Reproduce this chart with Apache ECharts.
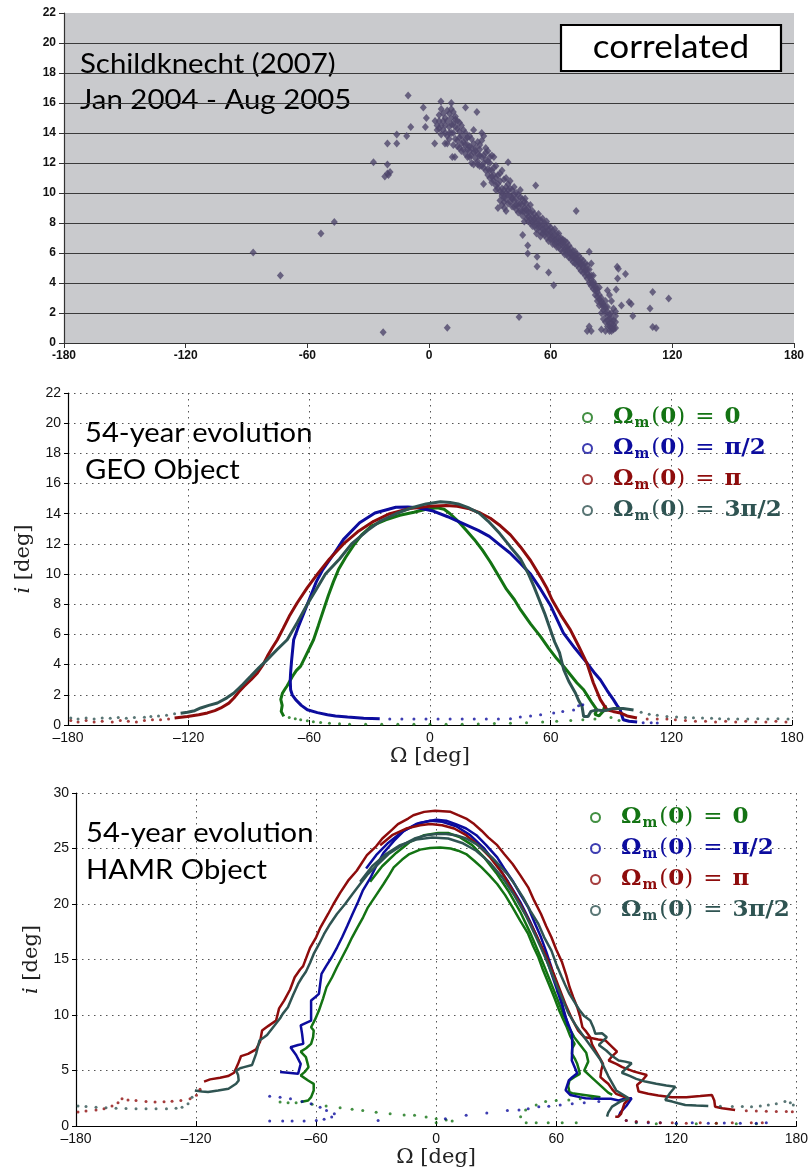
<!DOCTYPE html>
<html>
<head>
<meta charset="utf-8">
<script src="https://cdn.jsdelivr.net/npm/echarts@6/dist/echarts.min.js"></script>
<style>
html,body{margin:0;padding:0;background:#fff;}
#chart{width:811px;height:1171px;}
</style>
</head>
<body>
<div id="chart"></div>
<script>
// ---------- tick values ----------
var omegaTicks = [-180, -120, -60, 0, 60, 120, 180];
var geoIncTicks = [0, 2, 4, 6, 8, 10, 12, 14, 16, 18, 20, 22];
var hamrIncTicks = [0, 5, 10, 15, 20, 25, 30];

// ---------- legend labels ----------
var seriesNames = ['Ωm(0) = 0', 'Ωm(0) = π/2', 'Ωm(0) = π', 'Ωm(0) = 3π/2'];
var seriesValueText = ['0', 'π/2', 'π', '3π/2'];

// ---------- top panel: Schildknecht (2007) observations [Ω, i] ----------
var correlatedPoints = [
[-86.7,6.04],[-73.3,4.5],[-53.3,7.3],[-46.7,8.06],[-22.6,0.71],[-27.4,12.05],[-20.5,13.3],[-15.9,13.3],[-15.9,13.9],
[-20.5,11.9],[-21.8,11.1],[-20.5,11.3],[-19.2,11.4],[-20,11.2],[-10.3,16.5],[-9,14.4],[-11,13.8],[-2.8,15.7],[-1.3,15],
[-1.8,14.4],[2.8,13.3],[5.9,16.1],[11,16],[18,15.7],[23.6,15.4],[7.9,13.3],[9,13.3],[11.5,12.4],[12.8,12.4],[9,1.02],
[44.4,1.74],[72.6,8.8],[52.6,10.5],[47.4,9.64],[37.2,9],[38,8.8],[26.9,10.6],[39,12.05],[46.2,7.2],[48.7,6.5],[48.7,5.97],
[53.3,5.75],[53.3,5.1],[59,4.7],[61.5,3.85],[79,6.08],[96.9,4.6],[93,4.3],[92.3,3.56],[94.9,2.5],[98.7,2.74],[99.7,2.6],
[100.5,1.8],[110.3,3.4],[109,2.3],[118.2,2.96],[110.3,1.07],[112,1.0],[92.8,5.08],[93.4,4.95],
[3,14.8],[4,14.5],[5,14.8],[6,14.5],[5,14.3],[6,15.6],[7,14.2],[8,15],[8,14.0],[9,14.8],[9,13.8],[10,15.3],[10,14.4],[11,15],
[11,14.0],[12,14.6],[12,14],[13,15.1],[13,13.6],[14,14.3],[14,13.5],[15,14.7],[15,13.0],[16,13.8],[16,13.3],[17,14.2],
[18,13.6],[18,12.6],[19,13.2],[19,12.9],[20,13.8],[20,12.4],[21,13],[21,12.0],[22,14.2],[22,12.7],[23,12.8],[24,13.4],
[24,11.9],[25,12.5],[25,13.2],[26,14],[26,11.8],[27,13.8],[27,11.7],[28,12.2],[28,13.0],[29,12.8],[29,11.2],[30,12],[30,11],
[31,11.5],[31,12.5],[32,12.4],[32,10.8],[33,11.8],[33,10.5],[34,11.2],[34,9.0],[35,10.8],[35,9.5],[36,11.5],[36,10.3],
[36,9.2],[37,10.9],[37,9.7],[38,10],[38,11.0],[39,10.6],[39,9.3],[40,9.8],[40,10.8],[41,10.2],[41,9.1],[42,9.5],[42,10.4],
[43,9.2],[43,10.0],[44,9.9],[44,8.7],[45,9.3],[45,10.2],[46,8.8],[46,9.6],[47,9.4],[47,8.1],[48,8.6],[48,9.3],[49,9],
[49,8.4],[50,8.3],[50,9.2],[51,8.8],[51,7.8],[52,8.1],[52,8.6],[53,8.4],[53,7.6],[54,7.9],[54,8.6],[55,8.2],[55,7.4],
[56,7.6],[56,8.3],[57,8],[57,7.2],[58,7.4],[58,8.1],[59,7.8],[59,6.8],[60,7.2],[60,7.7],[61,7.5],[61,6.6],[62,6.9],[62,7.6],
[63,7.3],[63,6.4],[64,6.7],[64,7.3],[65,7],[65,6.2],[66,6.5],[66,6.9],[67,6.8],[67,5.9],[68,6.2],[68,6.7],[69,6.5],[69,5.7],
[70,5.9],[70,6.3],[71,6.1],[71,5.4],[72,5.6],[72,6.1],[73,5.9],[73,5.2],[74,5.3],[74,5.8],[75,5.6],[75,4.8],[76,5],[76,5.5],
[77,5.3],[77,4.5],[78,4.6],[78,5.2],[79,4.9],[79,4.0],[80,4.2],[80,3.8],[80,5.3],[81,4.5],[81,3.6],[82,3.9],[82,3.2],[83,3.4],
[83,2.8],[84,3.7],[84,2.5],[85,3],[85,2.0],[86,2.6],[86,2.2],[86,1.6],[87,2.8],[87,1.4],[88,1.8],[88,2.4],[88,1.1],[89,1.3],
[89,1.9],[89,0.8],[90,1.0],[90,1.6],[90,0.8],[91,0.9],[91,1.2],[91,1.5],[92,2.1],[92,1.8],[91,2.3],[90,2.8],[89,3.2],[88,3.5],
[78,0.8],[80,0.8],[79,1.1],[85,0.9],[87,0.8],[92,1.0],
[4,14.2],[5,15.2],[6,13.9],[7,14.8],[7,15.3],[8,14.5],[9,15.5],[10,14.0],[10,13.6],[11,14.6],[11,15.6],[12,15.4],[12,13.2],
[13,14.4],[13,14.9],[14,14.8],[14,13.1],[15,14.1],[15,13.7],[16,14.5],[16,12.8],[17,13.4],[17,12.9],[18,14.0],[18,13.2],
[19,13.7],[19,12.4],[20,13.1],[20,12.8],[21,13.6],[21,12.5],[22,13.3],[22,11.9],[23,13.0],[23,12.3],[24,12.6],[24,12.1],
[25,11.8],[25,12.9],[26,12.4],[26,13.5],[27,12.5],[27,12.0],[28,11.5],[28,12.7],[29,12.1],[29,11.6],[30,11.5],[30,12.4],
[31,11.1],[31,10.7],[32,11.7],[32,11.2],[33,11.0],[33,10.2],[34,10.6],[34,10.3],[35,10.1],[35,11.3],[36,10.0],[36,9.8],
[37,10.2],[37,9.4],[38,9.6],[38,10.4],[39,9.9],[39,10.2],[40,9.4],[40,10.3],[41,9.7],[41,9.6],[42,9.1],[42,9.9],[43,8.9],
[43,9.6],[44,9.3],[44,9.1],[45,8.8],[45,9.7],[46,9.2],[46,8.5],[47,8.8],[47,9.0],[48,8.3],[48,8.9],[49,8.7],[49,8.1],[50,8.0],
[50,8.7],[51,8.4],[51,8.1],[52,7.8],[52,8.3],[53,8.0],[53,7.3],[54,7.7],[54,8.2],[55,7.8],[55,7.1],[56,7.3],[56,7.9],[57,7.6],
[57,7.4],[58,7.0],[58,7.7],[59,7.2],[59,7.5],[60,6.9],[60,7.4],[61,7.1],[61,6.9],[62,6.6],[62,7.2],[63,6.9],[63,6.7],[64,6.4],
[64,7.0],[65,6.6],[65,6.8],[66,6.1],[66,6.7],[67,6.4],[67,6.2],[68,5.9],[68,6.4],[69,6.0],[69,6.2],[70,5.6],[70,6.0],[71,5.8],
[71,5.7],[72,5.3],[72,5.8],[73,5.5],[73,5.6],[74,5.0],[74,5.5],[75,5.2],[75,5.3],[76,4.7],[76,5.2],[77,4.9],[77,4.8],[78,4.3],
[78,4.9],[79,4.5],[79,4.4],[80,4.0],[80,4.5],[81,4.1],[81,3.9],[82,3.5],[82,3.7],[83,3.1],[83,3.6],[84,2.9],[84,3.2],[85,2.6],
[85,2.8],[86,2.4],[87,2.0],[87,2.4],[88,1.5],[88,2.1],[89,1.6],[89,1.1],[90,1.3],[90,2.0],[91,1.0],[92,1.4]
];

// ---------- middle panel: GEO object, 54-year evolution [Ω, i] ----------
var geoGreenLine = [[-72.7,0.57],[-74,0.9],[-73.5,1.3],[-74.2,1.7],[-73.4,2.1],[-72,2.4],[-71,2.6],[-68.5,3.2],[-66.5,3.6],[-64.3,3.9],
[-61,4.8],[-57.9,5.65],[-55.5,6.6],[-53,7.6],[-50.5,8.6],[-48,9.5],[-45.5,10.3],[-42,11.1],[-38,11.9],[-34,12.6],[-29,13.2],
[-22,13.6],[-15,13.9],[-8,14.1],[-2,14.3],[3.6,14.4],[7,14.3],[10,14.0],[14,13.5],[18,12.9],[22,12.3],[26,11.6],[30,10.8],
[34,9.9],[38,9.0],[42,8.3],[45,7.64],[50,6.7],[54.9,5.87],[59,5.1],[63,4.4],[66.5,3.88],[70,3.3],[73,2.8],[76.4,2.34],
[78.5,1.9],[80.6,1.46],[83,1.0],[82,0.7],[84,0.6],[86,0.9],[87,1.3],[88,0.9]];
var geoGreenDots = [[-70,0.5],[-67,0.42],[-64.3,0.35],[-61,0.28],[-58,0.22],[-54.4,0.17],[-50,0.12],[-45,0.08],[-40,0.05],
[-32,0.05],[-24,0.05],[-16,0.05],[-8,0.05],[0,0.05],[8,0.05],[16,0.05],[24,0.07],[32,0.1],[40,0.12],[48,0.15],[56,0.2],
[63,0.25],[70,0.3],[76,0.35],[82,0.4],[90,0.5],[94,0.3]];
var geoBlueLine = [[-25,0.42],[-33,0.45],[-41,0.53],[-47,0.6],[-51,0.68],[-56,0.82],[-61,1.01],[-64,1.3],[-66.8,1.68],[-68.5,2.0],
[-69.3,2.34],[-69.5,3.0],[-69.3,3.47],[-68.8,4.3],[-67.8,5.65],[-65.5,6.5],[-62.5,7.5],[-59.5,8.5],[-56.5,9.5],[-53.3,10.3],
[-48,11.3],[-43,12.3],[-35,13.4],[-27.4,14.05],[-17,14.43],[-11,14.45],[-6,14.4],[1,14.2],[8.8,13.8],[14,13.5],[19,13.2],
[24,12.9],[29.5,12.5],[35,11.9],[39.8,11.4],[45,10.7],[50,10.0],[55,9.0],[60,7.9],[66.3,6.1],[72,5.1],
[78.1,4.1],[81.5,3.5],[84.7,3.0],[88,2.3],[91.2,1.68],[93,1.3],[94.6,1.0],[95.5,0.6],[96.1,0.35],[99,0.25],[103,0.2]];
var geoBlueDots = [[-20,0.4],[-14,0.4],[-8,0.4],[-2,0.4],[4,0.4],[10,0.4],[16,0.4],[22,0.4],[28,0.4],[34,0.4],[40,0.42],
[44.9,0.53],[50,0.6],[55,0.68],[61.5,0.8],[66,0.9],[71.4,1.0],[73.9,1.28],[76,1.35],[106,0.15],[110,0.15],[113,0.13]];
var geoRedLine = [[-127,0.46],[-120.6,0.57],[-115,0.68],[-110.7,0.8],[-107,0.95],[-104,1.13],[-100,1.45],[-97.5,1.79],[-95,2.2],
[-92.5,2.56],[-89,3.0],[-85.8,3.45],[-83,4.0],[-80.9,4.55],[-78.5,5.1],[-75.9,5.65],[-73,6.4],[-70,7.2],[-66,8.1],[-61,9.1],
[-56,10.0],[-50,11.0],[-43,12.0],[-36,12.8],[-28,13.5],[-20,14.0],[-10,14.35],[0,14.5],[8,14.55],[13.5,14.5],[19,14.35],
[25,14.05],[30,13.7],[35,13.2],[40,12.6],[45,11.8],[50,10.9],[55,9.8],[58,9.1],[60.7,8.3],[65,7.3],[69.8,6.3],[74,5.2],
[78,4.1],[81.2,2.8],[84.7,1.68],[88,1.0],[91,0.9],[94.6,0.8],[98,0.6],[102.9,0.46]];
var geoRedDots = [[-178.6,0.3],[-175,0.2],[-171,0.3],[-167,0.2],[-163,0.25],[-158,0.2],[-154,0.3],[-150,0.25],[-146,0.2],
[-142,0.3],[-138,0.35],[-134,0.35],[-130,0.4],[108,0.4],[113,0.4],[117.8,0.4],[122,0.35],[127,0.3],[132,0.25],[137,0.25],
[142,0.2],[147,0.25],[152,0.2],[157,0.25],[162,0.2],[167,0.2],[172,0.25],[177,0.2]];
var geoSlateLine = [[-124,0.78],[-120.6,0.84],[-117,0.95],[-114,1.13],[-110,1.3],[-105.7,1.46],[-101,1.8],[-97.5,2.12],[-93,2.7],
[-89.2,3.22],[-85,3.8],[-80.9,4.33],[-76,5.0],[-71,5.65],[-66,6.8],[-61,8.0],[-56.5,9.0],[-52,10.0],[-45,11.0],[-39,12.0],
[-31,12.9],[-24.8,13.5],[-17,14.0],[-9,14.4],[-2,14.65],[5.2,14.8],[10,14.75],[14,14.65],[19,14.4],[24.3,14.05],[29,13.5],
[34.6,12.7],[40,11.8],[45,11.0],[49,10.0],[51.6,9.2],[54,8.4],[57,7.4],[59.9,6.3],[62,5.5],[64.4,4.8],[66.5,3.66],[69,2.9],
[72.3,2.12],[74,1.6],[75.6,1.23],[76.4,0.57],[78.6,0.57],[80,0.9],[83,1.0],[86.4,0.95],[91.3,1.1],[96,1.1],[101.2,1.0]];
var geoSlateDots = [[-178.6,0.46],[-175,0.4],[-171,0.46],[-167,0.4],[-163,0.46],[-159,0.45],[-155,0.5],[-151,0.45],[-147,0.5],
[-142,0.52],[-138.8,0.57],[-135,0.6],[-131,0.65],[-127,0.75],[105,0.85],[109,0.72],[113,0.65],[117.8,0.57],[122.6,0.53],
[127,0.5],[131,0.48],[135.5,0.46],[140,0.44],[144,0.42],[148.4,0.4],[153,0.4],[158,0.4],[163,0.42],[168,0.4],[173,0.42],[178,0.4]];

// ---------- bottom panel: HAMR object, 54-year evolution [Ω, i] ----------
var hamrGreenArchA = [[-67.7,2.16],[-64,2.3],[-62.5,2.6],[-61.2,3.2],[-61.2,3.8],[-64,4.1],[-67.7,4.56],[-65.5,4.9],[-63.8,5.3],
[-64.5,5.8],[-65.1,6.2],[-67.7,6.7],[-65,7.0],[-62.5,7.4],[-61.5,8.0],[-61.2,8.6],[-62.5,8.9],[-60.5,9.6],[-58.6,10.4],
[-56.5,11.5],[-54.8,12.5],[-52,13.4],[-49.6,14.3],[-47,15.2],[-44.4,16.1],[-42,17.0],[-39.3,17.9],[-36.5,18.8],[-34.1,19.7],
[-30,20.8],[-26.3,21.8],[-23.5,22.6],[-21.2,23.3],[-17,24.0],[-13.4,24.5],[-8,24.9],[-3.1,25.05],[2,25.1],[7.2,25.0],[11,24.8],
[15,24.5],[19,23.9],[22.7,23.3],[26.5,22.6],[30.5,21.8],[34.5,20.8],[38.2,19.7],[42,18.5],[46,17.3],[48.5,16.2],[51.1,15.2],
[53.5,14.0],[56.3,12.8],[59,11.6],[61.5,10.4],[63.5,9.6],[65.3,8.9],[67,8.1],[69.2,7.4],[68,7.0],[67.9,6.5],[69.5,6.0],
[70.5,5.6],[71.3,5.1],[71.8,4.7],[69,4.4],[66.6,4.1],[66,3.6],[66.6,3.06],[68,2.95],[74,2.8],[82.1,2.6]];
var hamrGreenArchB = [[-33,22],[-27,23.4],[-20,24.6],[-13,25.6],[-6,26.2],[1,26.4],[6,26.4],[12,26.0],[18,25.3],[24,24.2],[30,22.8],
[36,21.2],[42,19.3],[47,17.4],[52,15.3],[56,13.5],[60,11.7],[63,10.3],[66,9.0],[69,8.0],[72,7.3],[75,6.6],[76,5.8],[74,5.0],
[77,4.5],[80,4.0],[83,3.5],[86,3.0],[88,2.8]];
var hamrGreenDots = [[-78,2.16],[-74,2.1],[-70,2.1],[-62,1.95],[-55,1.8],[-48,1.65],[-42,1.5],[-36.7,1.4],[-30,1.25],[-23,1.1],
[-16,1.0],[-10.8,0.96],[-5,0.8],[0,0.66],[5,0.55],[8,0.45],[0,0.3],[42.2,0.84],[44.7,1.44],[50,1.9],[54.7,2.2],[60,2.3],
[66.3,2.34],[72,2.45],[78,2.55],[45,0.3],[50,0.3],[56,0.3],[63,0.3],[70,0.3],[100,0.3],[110,0.2],[120,0.2],[130,0.2],
[140,0.25],[150,0.2],[160,0.2]];
var hamrBlueArchA = [[-78,4.86],[-74,4.8],[-69,4.7],[-67.7,5.6],[-70,6.4],[-72.8,7.1],[-69,7.3],[-66.4,7.4],[-67,8.3],[-67.7,9.07],
[-65,9.3],[-62.5,9.5],[-62.5,10.4],[-62.5,11.3],[-60.5,11.6],[-58.6,11.9],[-57.3,13.7],[-55,14.4],[-52.2,15.2],[-49.5,16.1],
[-47,17.0],[-44.5,18.0],[-41.8,19.1],[-39,20.2],[-36.7,21.2],[-33,22.3],[-30,23.4],[-26.3,24.6],[-21,25.7],[-16,26.6],
[-8.3,27.3],[0,27.6],[5,27.5],[9.8,27.2],[15,26.8],[20.1,26.2],[25,25.3],[30.5,24.2],[34,23.2],[38.2,22.1],[42,20.9],[46,19.7],
[49,18.4],[52.4,17.0],[55,15.7],[57.6,14.3],[59.5,13.2],[61.5,11.9],[63,11.0],[64,10.1],[66,9.2],[67.9,8.3],[68,7.1],
[67.8,5.9],[70.5,4.75],[68,4.4],[66.3,4.1],[64.7,3.24],[67,2.8],[71.8,2.6],[74.6,2.5],[80,2.45],[87.3,2.46],[91.2,2.3],
[95,2.5],[97.7,2.5],[95,1.8],[92,1.2],[91.2,0.84]];
var hamrBlueArchB = [[-35,23.2],[-30,24.4],[-24,25.5],[-17,26.5],[-10,27.2],[-3,27.5],[3,27.4],[10,27.0],[17,26.2],[24,25.0],
[30,23.6],[36,22.0],[42,20.2],[47,18.4],[52,16.4],[56,14.6],[59,13.0],[62,11.4],[64,10.3],[66,9.0]];
var hamrBlueDots = [[-83.2,2.67],[-78,2.6],[-72.8,2.46],[-67,2.2],[-62.5,2.0],[-58,1.7],[-54.8,1.4],[-50.9,1.1],[-52.2,0.8],
[-56,0.6],[-59.9,0.5],[-66,0.45],[-72,0.45],[-76.7,0.45],[-83.2,0.45],[-29,0.5],[4.6,0.66],[15,0.96],[25.3,1.17],[35.6,1.4],
[41.4,1.44],[46,1.56],[51.3,1.74],[56.3,1.77],[62,1.9],[68,2.0],[74,2.1],[81.3,2.2],[95,0.5],[100,0.35],[106,0.3],[112,0.3],
[120,0.25],[128,0.3],[136,0.25],[144,0.27],[152,0.25],[160,0.25],[165,0.3]];
var hamrRedArchA = [[-116,4.0],[-113,4.2],[-108,4.35],[-104,4.5],[-101,4.8],[-99,5.6],[-97.5,6.3],[-94,6.5],[-90,6.9],[-88,7.6],
[-87,8.6],[-84,9.0],[-80,9.5],[-78.5,10.6],[-76,11.3],[-73,12.3],[-70.7,13.4],[-68,14.1],[-66.5,14.4],[-64,15.6],[-62.9,16.1],
[-60,17.0],[-57.8,17.9],[-54,19.1],[-51.3,20],[-48,21],[-44,22.1],[-39.7,23],[-34.6,24.4],[-30,25.2],[-26.9,25.9],[-22,26.7],
[-19.1,27.2],[-14,27.7],[-11.4,28],[-6,28.3],[-0.5,28.4],[7.2,28.3],[11,28.0],[15,27.7],[19,27.2],[22.7,26.6],[26,26],
[30.5,25.3],[34,24.5],[38.2,23.6],[42,22.6],[46,21.5],[49,20.3],[52.4,19.1],[55,18],[57.6,17],[60,15.9],[62.8,14.8],[65,13.6],
[66.7,12.5],[68.5,11.6],[70.5,10.7],[72,9.8],[73.1,8.9],[75,8.5],[77,8.0],[78,7.3],[79.6,6.8],[81.5,6.2],[83.4,5.6],[82.5,5.0],
[82.1,4.4],[84,4.1],[86,3.8],[88,3.3],[89.9,2.9],[93,2.7],[96.3,2.46],[94,2.0],[92.4,1.1],[91,0.84],[89.5,0.84]];
var hamrRedArchB = [[-28,25.3],[-22,26.2],[-15,26.8],[-8,27.1],[-3,27.2],[3,27.1],[9,26.8],[15,26.2],[21,25.3],[27,24.2],[33,22.8],
[39,21.0],[45,19.0],[50,17.2],[55,15.3],[59,13.6],[62,12.2],[65,10.8],[68,9.6],[71,8.6],[74,8.0],[78,7.9],[81,7.8],[84.7,7.7],
[88.7,7.0],[90.4,6.7],[87.5,6.2],[86.2,5.9],[90,5.6],[93,5.3],[99,4.9],[105.3,4.6],[103,4.1],[100.4,3.7],[101.2,3.1],[106,2.9],
[111,2.75],[117.8,2.6],[125,2.6],[132,2.7],[137.8,2.8],[139,2.3],[139.4,1.74],[143,1.6],[149.4,1.44]];
var hamrRedDots = [[-179,1.26],[-175,1.35],[-170,1.45],[-166,1.56],[-162,1.8],[-159,2.1],[-157,2.46],[-154,2.35],[-150,2.3],
[-145,2.2],[-140.5,2.16],[-136,2.18],[-132,2.22],[-127.6,2.3],[-123,2.45],[-119.8,2.76],[-118,3.3],[155,1.38],[160,1.35],
[165,1.32],[170,1.3],[175,1.3],[178,1.29],[95,0.5],[100,0.4],[106,0.35],[112,0.3],[118,0.3],[125,0.25],[132,0.3],[140,0.25],
[148,0.3],[157.5,0.3],[163,0.3]];
var hamrSlateArchA = [[-120.6,3.2],[-117,3.1],[-114,3.06],[-109,3.2],[-103.8,3.36],[-100,3.8],[-98.7,4.1],[-99,4.6],[-100,5.0],
[-98,5.2],[-96,5.3],[-92,5.5],[-90,6.5],[-88.3,7.7],[-86,8.0],[-84.5,8.2],[-81,9.0],[-78,9.7],[-76.7,10.1],[-74.1,10.7],
[-71.5,11.8],[-69,12.8],[-67,13.4],[-65.1,13.9],[-63,14.7],[-61.2,15.5],[-58.5,16.4],[-56,17.3],[-53,18.2],[-49.6,19.1],
[-45.5,20.0],[-41.8,20.9],[-38,21.8],[-34.1,22.7],[-29,23.6],[-23.8,24.5],[-17,25.3],[-10.8,25.9],[-5,26.2],[0,26.3],[5,26.3],
[9.8,26.2],[15,25.9],[20.1,25.4],[24,24.8],[27.9,24.2],[31.5,23.5],[35.6,22.7],[39.5,21.7],[43.4,20.6],[47,19.4],[51.1,18.2],
[54,17.0],[57.6,15.8],[60,14.6],[62.8,13.4],[64.5,12.7],[66.6,11.9],[69,11.2],[71.8,10.4],[74,9.9],[77,9.5],[78.5,8.9],
[79.6,8.3],[82.9,8.35],[85.3,8.0],[83,7.6],[81.3,7.3],[85,6.8],[88,6.3],[91.2,5.9],[94.5,5.8],[97.7,5.65],[95,5.2],[92.8,4.8],
[97,4.5],[100,4.25],[104.5,4.0],[110,3.8],[115,3.65],[119.5,3.54],[117,3.0],[114.5,2.34],[118,2.2],[121,2.05],[124.5,1.9],
[130,1.85],[136,1.8]];
var hamrSlateArchB = [[-38,22],[-32,23.4],[-25,24.5],[-18,25.3],[-10,25.8],[-2,26.0],[6,25.9],[13,25.5],[20,24.8],[27,23.7],
[33,22.4],[39,20.8],[45,18.9],[50,17.0],[55,15.0],[59,13.2],[63,11.5],[66,10.2],[70,9.0],[74,8.0],[78,7.0],[82,6.0],[86,4.5],
[90,3.2],[96.3,2.5],[92,2.2],[87.9,1.74],[86,1.2],[85.4,0.84]];
var hamrSlateDots = [[-179,1.8],[-175,1.75],[-170,1.7],[-165,1.65],[-160,1.6],[-155,1.58],[-150,1.55],[-145,1.55],[-140,1.55],
[-134.8,1.56],[-130,1.6],[-127,1.7],[-124,2.0],[-122,2.6],[142,1.78],[148,1.76],[153,1.75],[157.6,1.74],[162,1.8],[166,1.9],
[170,2.0],[174.3,2.2],[177,2.1],[178.5,1.9]];

// ---------- colours ----------
var C_GREEN = '#137313', C_BLUE = '#0c0c9e', C_RED = '#8e0c0c', C_SLATE = '#2f5452';
var colors = [C_GREEN, C_BLUE, C_RED, C_SLATE];

var chart = echarts.init(document.getElementById('chart'), null, {renderer: 'canvas'});

var SERIF = "'DejaVu Serif', 'Liberation Serif', serif";
var SANS = "'Liberation Sans', Arial, sans-serif";
var GILL = "Lato, 'Open Sans', sans-serif";

function enDash(v) { return v < 0 ? '\u2013' + Math.abs(v) : String(v); }

function lineS(k, data, xi, w) {
  return {type: 'line', name: seriesNames[k], data: data, xAxisIndex: xi, yAxisIndex: xi,
    symbol: 'none', showSymbol: false, smooth: false, clip: true,
    lineStyle: {color: colors[k], width: w}, itemStyle: {color: colors[k]}, z: 3};
}
function dotS(k, data, xi) {
  return {type: 'scatter', name: seriesNames[k], data: data, xAxisIndex: xi, yAxisIndex: xi,
    symbol: 'circle', symbolSize: 3, itemStyle: {color: colors[k]}, z: 3};
}

// rich text styles for legend
var FS = 23, LH = 26;
var rich = {};
var tags = ['g', 'b', 'r', 's'];
tags.forEach(function (t, k) {
  rich['sp' + t] = {width: 16, lineHeight: LH};
  rich['O' + t] = {fontFamily: SERIF, fontWeight: 'bold', fontSize: FS, color: colors[k], lineHeight: LH, verticalAlign: 'middle'};
  rich['m' + t] = {fontFamily: SERIF, fontWeight: 'bold', fontSize: 14, color: colors[k], lineHeight: LH, verticalAlign: 'bottom', padding: [0, 2, 0, 1]};
  rich['p' + t] = {fontFamily: SERIF, fontSize: FS, color: colors[k], lineHeight: LH, verticalAlign: 'middle'};
  rich['n' + t] = {fontFamily: SERIF, fontWeight: 'bold', fontSize: FS, color: colors[k], lineHeight: LH, verticalAlign: 'middle'};
  rich['e' + t] = {fontFamily: SERIF, fontSize: FS, color: colors[k], lineHeight: LH, verticalAlign: 'middle', padding: [0, 10, 0, 10]};
});
function legendFormatter(name) {
  var k = seriesNames.indexOf(name), t = tags[k];
  return '{sp' + t + '|}{O' + t + '|Ω}{m' + t + '|m}{p' + t + '|(}{n' + t + '|0}{p' + t + '|)}{e' + t + '|=}{n' + t + '|' + seriesValueText[k] + '}';
}
function makeLegend(left, top) {
  return {
    orient: 'vertical', left: left, top: top, icon: 'emptyCircle', itemWidth: 9, itemHeight: 9, itemGap: 6.5,
    itemStyle: {borderWidth: 1.2},
    data: seriesNames.map(function (n, k) { return {name: n, itemStyle: {color: colors[k], borderColor: colors[k]}}; }),
    formatter: legendFormatter, textStyle: {rich: rich}, selectedMode: false, padding: 0
  };
}

function matlabX(gi) {
  return {
    type: 'value', gridIndex: gi, min: -180, max: 180, interval: 60,
    name: 'Ω [deg]', nameLocation: 'middle', nameGap: 21,
    nameTextStyle: {fontFamily: SERIF, fontSize: 21, color: '#222'},
    axisLine: {show: true, onZero: false, lineStyle: {color: '#000', width: 1.2}},
    axisTick: {show: true, inside: true, length: 5, lineStyle: {color: '#000'}},
    axisLabel: {fontFamily: SANS, fontSize: 14, color: '#111', margin: 6, formatter: enDash},
    splitLine: {show: true, lineStyle: {color: '#555', type: [1.5, 4.5], width: 1}}
  };
}
function matlabY(gi, max, interval) {
  return {
    type: 'value', gridIndex: gi, min: 0, max: max, interval: interval,
    name: '{it|i} [deg]', nameLocation: 'middle', nameGap: 30, nameRotate: 90,
    nameTextStyle: {fontFamily: SERIF, fontSize: 21, color: '#222', rich: {it: {fontFamily: SERIF, fontStyle: 'italic', fontSize: 21, color: '#222'}}},
    axisLine: {show: true, onZero: false, lineStyle: {color: '#000', width: 1.2}},
    axisTick: {show: true, inside: false, length: 4, lineStyle: {color: '#000'}},
    axisLabel: {fontFamily: SANS, fontSize: 14, color: '#111', margin: 7},
    splitLine: {show: true, lineStyle: {color: '#555', type: [1.5, 4.5], width: 1}}
  };
}

var series = [
  {type: 'scatter', name: 'Schildknecht (2007)', data: correlatedPoints, xAxisIndex: 0, yAxisIndex: 0,
    symbol: 'diamond', symbolSize: [7, 8], itemStyle: {color: '#4f466b'}, z: 3},
  // GEO
  dotS(0, geoGreenDots, 1), dotS(1, geoBlueDots, 1), dotS(2, geoRedDots, 1), dotS(3, geoSlateDots, 1),
  lineS(0, geoGreenLine, 1, 3), lineS(1, geoBlueLine, 1, 3), lineS(2, geoRedLine, 1, 3), lineS(3, geoSlateLine, 1, 3),
  // HAMR
  dotS(0, hamrGreenDots, 2), dotS(1, hamrBlueDots, 2), dotS(2, hamrRedDots, 2), dotS(3, hamrSlateDots, 2),
  lineS(0, hamrGreenArchA, 2, 2.5), lineS(0, hamrGreenArchB, 2, 2.5),
  lineS(1, hamrBlueArchA, 2, 2.5), lineS(1, hamrBlueArchB, 2, 2.5),
  lineS(2, hamrRedArchA, 2, 2.5), lineS(2, hamrRedArchB, 2, 2.5),
  lineS(3, hamrSlateArchA, 2, 2.5), lineS(3, hamrSlateArchB, 2, 2.5)
];

var option = {
  animation: false,
  backgroundColor: '#ffffff',
  grid: [
    {left: 64, top: 13, width: 730, height: 330, show: true, backgroundColor: '#c9cacd', borderWidth: 0},
    {left: 68, top: 393, width: 724, height: 332},
    {left: 76, top: 793, width: 722, height: 333}
  ],
  xAxis: [
    {type: 'value', gridIndex: 0, min: -180, max: 180, interval: 60,
      axisLine: {show: true, onZero: false, lineStyle: {color: '#333', width: 1.2}},
      axisTick: {show: true, inside: false, length: 5, lineStyle: {color: '#333'}},
      axisLabel: {fontFamily: SANS, fontWeight: 'bold', fontSize: 12, color: '#111', margin: 7},
      splitLine: {show: false}},
    matlabX(1), matlabX(2)
  ],
  yAxis: [
    {type: 'value', gridIndex: 0, min: 0, max: 22, interval: 2,
      axisLine: {show: true, onZero: false, lineStyle: {color: '#333', width: 1.2}},
      axisTick: {show: true, inside: false, length: 5, lineStyle: {color: '#333'}},
      axisLabel: {fontFamily: SANS, fontWeight: 'bold', fontSize: 12, color: '#111', margin: 8},
      splitLine: {show: true, showMaxLine: false, lineStyle: {color: '#3a3a3a', width: 1}}},
    matlabY(1, 22, 2), matlabY(2, 30, 5)
  ],
  legend: [makeLegend(582, 406), makeLegend(590, 806)],
  graphic: [
    {type: 'text', x: 80, y: 52, scaleX: 1.13, style: {text: 'Schildknecht (2007)', font: '400 26px ' + GILL, fill: '#000'}},
    {type: 'text', x: 80, y: 88, scaleX: 1.13, style: {text: 'Jan 2004 - Aug 2005', font: '400 26px ' + GILL, fill: '#000'}},
    {type: 'rect', shape: {x: 561, y: 25, width: 220, height: 46}, style: {fill: '#fff', stroke: '#000', lineWidth: 2.2}, z: 10},
    {type: 'text', x: 671, y: 48, scaleX: 1.1, style: {text: 'correlated', font: '400 32px ' + GILL, fill: '#000', textAlign: 'center', textVerticalAlign: 'middle'}, z: 11},
    {type: 'text', x: 85, y: 420, scaleX: 1.08, style: {text: '54-year evolution', font: '400 27px ' + GILL, fill: '#000'}},
    {type: 'text', x: 85, y: 457, scaleX: 1.08, style: {text: 'GEO Object', font: '400 27px ' + GILL, fill: '#000'}},
    {type: 'text', x: 86, y: 820, scaleX: 1.08, style: {text: '54-year evolution', font: '400 27px ' + GILL, fill: '#000'}},
    {type: 'text', x: 86, y: 857, scaleX: 1.08, style: {text: 'HAMR Object', font: '400 27px ' + GILL, fill: '#000'}}
  ],
  series: series
};
chart.setOption(option);
</script>
</body>
</html>
